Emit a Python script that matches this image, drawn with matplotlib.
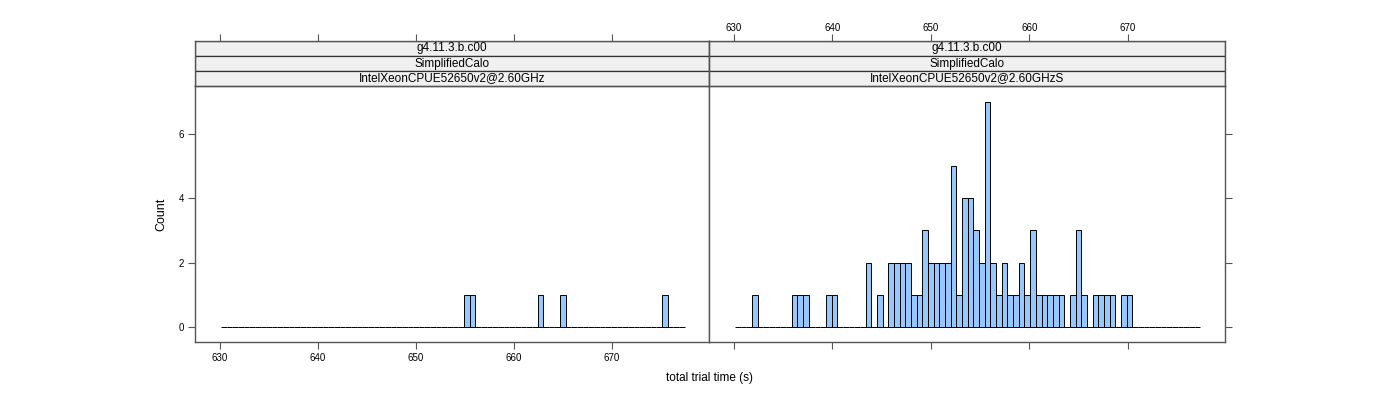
import numpy as np
import matplotlib
matplotlib.use('Agg')
import matplotlib.pyplot as plt
from matplotlib.patches import Rectangle

plt.rcParams['font.family'] = ['Liberation Sans', 'DejaVu Sans']

# histogram breaks (seconds) and counts per bin
breaks_lo = 630.1
breaks_hi = 677.4

counts_left = [0, 0, 0, 0, 0, 0, 0, 0, 0, 0,
               0, 0, 0, 0, 0, 0, 0, 0, 0, 0,
               0, 0, 0, 0, 0, 0, 0, 0, 0, 0,
               0, 0, 0, 0, 0, 0, 0, 0, 0, 0,
               0, 0, 0, 1, 1, 0, 0, 0, 0, 0,
               0, 0, 0, 0, 0, 0, 1, 0, 0, 0,
               1, 0, 0, 0, 0, 0, 0, 0, 0, 0,
               0, 0, 0, 0, 0, 0, 0, 0, 1, 0,
               0, 0]

counts_right = [0, 0, 0, 1, 0, 0, 0, 0, 0, 0,
                1, 1, 1, 0, 0, 0, 1, 1, 0, 0,
                0, 0, 0, 2, 0, 1, 0, 2, 2, 2,
                2, 1, 1, 3, 2, 2, 2, 2, 5, 1,
                4, 4, 3, 2, 7, 2, 1, 2, 1, 1,
                2, 1, 3, 1, 1, 1, 1, 1, 0, 1,
                3, 1, 0, 1, 1, 1, 1, 0, 1, 1,
                0, 0, 0, 0, 0, 0, 0, 0, 0, 0,
                0, 0]

strip_left = ['g4.11.3.b.c00', 'SimplifiedCalo', 'IntelXeonCPUE52650v2@2.60GHz']
strip_right = ['g4.11.3.b.c00', 'SimplifiedCalo', 'IntelXeonCPUE52650v2@2.60GHzS']

xticks = [630, 640, 650, 660, 670]
yticks = [0, 2, 4, 6]

edges = np.linspace(breaks_lo, breaks_hi, len(counts_left) + 1)
xlim = (627.45, 679.9)
ylim = (-0.47, 7.49)

line_col = '#555555'
bar_col = '#95c8ff'

fig = plt.figure(figsize=(14, 4), dpi=100)

W, H = 1400.0, 400.0
pan_top, pan_bot, strip_top = 86, 342, 41
panels = [(195, 514, counts_left, strip_left), (709, 516, counts_right, strip_right)]

for i, (x0, w, counts, strips) in enumerate(panels):
    ax = fig.add_axes([x0 / W, (H - pan_bot) / H, w / W, (pan_bot - pan_top) / H])
    ax.bar(edges[:-1], counts, width=np.diff(edges), align='edge',
           color=bar_col, edgecolor='black', linewidth=0.7)
    ax.set_xlim(*xlim)
    ax.set_ylim(*ylim)
    ax.set_xticks(xticks)
    ax.set_yticks(yticks)
    for s in ax.spines.values():
        s.set_color(line_col)
        s.set_linewidth(1.0)
    ax.tick_params(direction='out', length=5, width=0.8, color=line_col,
                   labelsize=7, pad=3)
    if i == 0:
        ax.tick_params(axis='y', left=True, right=False, labelleft=True)
        ax.tick_params(axis='x', bottom=True, labelbottom=True)
        ax.set_ylabel('Count', fontsize=9, labelpad=8)
    else:
        ax.tick_params(axis='y', left=False, right=True, labelleft=False, labelright=False)
        ax.tick_params(axis='x', bottom=True, labelbottom=False)

    # strips on top of panel
    sax = fig.add_axes([x0 / W, (H - pan_top) / H, w / W, (pan_top - strip_top) / H])
    sax.set_xlim(*xlim)
    sax.set_ylim(0, 3)
    sax.set_xticks(xticks)
    sax.set_yticks([])
    sax.xaxis.tick_top()
    sax.tick_params(axis='x', direction='out', length=5, width=0.8, color=line_col,
                    labelsize=7, pad=1, labeltop=(i == 1), bottom=False, labelbottom=False)
    for s in sax.spines.values():
        s.set_color(line_col)
        s.set_linewidth(1.0)
    for k, label in enumerate(strips):
        yb = 2 - k
        sax.add_patch(Rectangle((xlim[0], yb), xlim[1] - xlim[0], 1,
                                facecolor='#f0f0f0', edgecolor='#333333', linewidth=0.9))
        sax.text(sum(xlim) / 2, yb + 0.5, label, ha='center', va='center', fontsize=8.5)

fig.text(710 / W, (H - 378) / H, 'total trial time (s)', ha='center', va='center', fontsize=8.5)

fig.savefig('out.png', dpi=100)
